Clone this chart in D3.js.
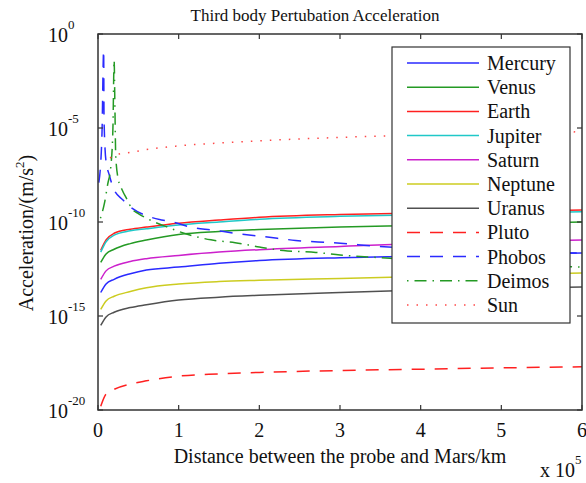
<!DOCTYPE html>
<html><head><meta charset="utf-8">
<script src="https://cdn.jsdelivr.net/npm/d3@7"></script>
<style>
body{margin:0;background:#fff}
svg{display:block}
text{font-family:"Liberation Serif","Times New Roman",serif;fill:#111}
</style></head>
<body><svg id="c" width="586" height="483"></svg>
<script>
// distance from Mars, units of 1e5 km
const distX = [0.034, 0.1, 0.2, 0.4, 0.6, 1, 1.5, 2, 3, 4, 5, 6];
// log10 of acceleration (m/s^2)
const mercury = [-13.75, -13.3, -13.05, -12.75, -12.55, -12.4, -12.2, -12.05, -11.9, -11.82, -11.72, -11.65];
const venus   = [-12.15, -11.7, -11.45, -11.15, -10.96, -10.66, -10.5, -10.4, -10.26, -10.18, -10.08, -10.0];
const earth   = [-11.5, -10.95, -10.6, -10.38, -10.27, -10.07, -9.9, -9.75, -9.6, -9.52, -9.44, -9.36];
const jupiter = [-11.6, -11.05, -10.7, -10.47, -10.36, -10.16, -10.0, -9.85, -9.7, -9.62, -9.54, -9.46];
const saturn  = [-13.05, -12.6, -12.35, -12.1, -11.95, -11.78, -11.6, -11.47, -11.3, -11.15, -11.05, -10.96];
const neptune = [-14.65, -14.2, -13.95, -13.7, -13.5, -13.3, -13.17, -13.1, -13.0, -12.9, -12.8, -12.71];
const uranus  = [-15.5, -15.05, -14.8, -14.55, -14.4, -14.15, -14.0, -13.9, -13.75, -13.62, -13.53, -13.46];
const pluto   = [-19.8, -19.15, -18.9, -18.62, -18.45, -18.2, -18.08, -18.0, -17.9, -17.83, -17.76, -17.7];

const phobosX = [0.01, 0.03, 0.05, 0.07, 0.075, 0.1, 0.14, 0.19, 0.31, 0.42, 0.58, 0.79, 0.93, 1.14, 1.43, 1.7, 2.1, 2.45, 2.9, 3.6, 4.5, 6];
const phobos  = [-7.9, -7.1, -5.2, -0.85, -4.6, -6.8, -7.5, -8.2, -8.83, -9.26, -9.63, -9.89, -10.0, -10.27, -10.43, -10.6, -10.8, -10.98, -11.1, -11.33, -11.5, -11.65];

const deimosX = [0.03, 0.08, 0.12, 0.16, 0.185, 0.2, 0.21, 0.22, 0.25, 0.3, 0.36, 0.42, 0.5, 0.7, 0.86, 1.0, 1.4, 1.7, 2.0, 2.3, 2.7, 3.0, 3.5, 4.5, 6];
const deimos  = [-9.8, -9.0, -8.0, -7.0, -5.0, -1.4, -4.0, -6.5, -7.7, -8.3, -8.8, -9.3, -9.55, -10.0, -10.27, -10.5, -10.95, -11.1, -11.33, -11.52, -11.62, -11.75, -11.9, -12.15, -12.4];

const sunX = [0.15, 0.2, 0.4, 0.6, 1, 1.5, 2, 3, 4, 5, 6];
const sun  = [-6.6, -6.45, -6.3, -6.15, -5.95, -5.8, -5.68, -5.5, -5.37, -5.27, -5.2];

const names = ["Mercury","Venus","Earth","Jupiter","Saturn","Neptune","Uranus","Pluto","Phobos","Deimos","Sun"];
const xTicks = [0,1,2,3,4,5,6];
const yTickExp = [0,-5,-10,-15,-20];

const seriesData = [
  {name:"Mercury", xs:distX, ys:mercury, color:"#2a2aff", dash:null},
  {name:"Venus", xs:distX, ys:venus, color:"#249a24", dash:null},
  {name:"Earth", xs:distX, ys:earth, color:"#ff2020", dash:null},
  {name:"Jupiter", xs:distX, ys:jupiter, color:"#20c8c8", dash:null},
  {name:"Saturn", xs:distX, ys:saturn, color:"#cc20cc", dash:null},
  {name:"Neptune", xs:distX, ys:neptune, color:"#cccc20", dash:null},
  {name:"Uranus", xs:distX, ys:uranus, color:"#505050", dash:null},
  {name:"Pluto", xs:distX, ys:pluto, color:"#ff2020", dash:"13,10"},
  {name:"Phobos", xs:phobosX, ys:phobos, color:"#2a2aff", dash:"13,10"},
  {name:"Deimos", xs:deimosX, ys:deimos, color:"#249a24", dash:"1.5,6,12,6"},
  {name:"Sun", xs:sunX, ys:sun, color:"#ff4848", dash:"1.5,8"}
];

const svg = d3.select("#c");
const L = 98, R = 582, T = 34, B = 410;
const x = d3.scaleLinear().domain([0,6]).range([L,R]);
const y = d3.scaleLog().domain([1e-20,1]).range([B,T]);

svg.append("defs").append("clipPath").attr("id","clip")
  .append("rect").attr("x",L).attr("y",T).attr("width",R-L).attr("height",B-T);

const line = d3.line().x(d=>x(d[0])).y(d=>y(Math.pow(10,d[1]))).curve(d3.curveMonotoneX);

const g = svg.append("g").attr("clip-path","url(#clip)");
seriesData.forEach(s=>{
  const pts = s.xs.map((v,i)=>[v,s.ys[i]]);
  g.append("path").attr("d",line(pts)).attr("fill","none")
    .attr("stroke",s.color).attr("stroke-width",1.5)
    .attr("stroke-dasharray",s.dash);
});

// axes (inward ticks on all sides)
const frame = "#333";
const ax = svg.append("g").attr("stroke",frame).attr("stroke-width",1.2);
xTicks.forEach(t=>{
  ax.append("line").attr("x1",x(t)).attr("x2",x(t)).attr("y1",B).attr("y2",B-5);
  ax.append("line").attr("x1",x(t)).attr("x2",x(t)).attr("y1",T).attr("y2",T+5);
});
yTickExp.forEach(e=>{
  ax.append("line").attr("x1",L).attr("x2",L+5).attr("y1",y(Math.pow(10,e))).attr("y2",y(Math.pow(10,e)));
  ax.append("line").attr("x1",R).attr("x2",R-5).attr("y1",y(Math.pow(10,e))).attr("y2",y(Math.pow(10,e)));
});
svg.append("rect").attr("x",L).attr("y",T).attr("width",R-L).attr("height",B-T)
  .attr("fill","none").attr("stroke",frame).attr("stroke-width",1.5);

// tick labels
xTicks.forEach(t=>{
  svg.append("text").attr("x",x(t)).attr("y",437).attr("text-anchor","middle")
    .attr("font-size",20).text(t);
});
yTickExp.forEach(e=>{
  const yy = y(Math.pow(10,e));
  const tx = svg.append("text").attr("x",48).attr("y",yy+8).attr("font-size",20);
  tx.append("tspan").text("10");
  tx.append("tspan").attr("font-size",13).attr("dy",-13).text(e);
});

// axis labels
svg.append("text").attr("x",340).attr("y",463).attr("text-anchor","middle")
  .attr("font-size",20).text("Distance between the probe and Mars/km");
const mult = svg.append("text").attr("x",540).attr("y",477).attr("font-size",20);
mult.append("tspan").text("x 10");
mult.append("tspan").attr("font-size",13).attr("dy",-13).text("5");

const yl = svg.append("text").attr("transform","translate(33,233) rotate(-90)")
  .attr("text-anchor","middle").attr("font-size",20);
yl.append("tspan").text("Acceleration/(m/s");
yl.append("tspan").attr("font-size",13).attr("dy",-9).text("2");
yl.append("tspan").attr("dy",9).text(")");

svg.append("text").attr("x",315).attr("y",21).attr("text-anchor","middle")
  .attr("font-size",17).text("Third body Pertubation Acceleration");

// legend
const lg = svg.append("g");
lg.append("rect").attr("x",392).attr("y",47).attr("width",178).attr("height",276)
  .attr("fill","#fff").attr("stroke","#333").attr("stroke-width",1.2);
seriesData.forEach((s,i)=>{
  const yy = 63 + i*24.2;
  lg.append("line").attr("x1",407).attr("x2",479).attr("y1",yy).attr("y2",yy)
    .attr("stroke",s.color).attr("stroke-width",1.5).attr("stroke-dasharray",s.dash);
  lg.append("text").attr("x",487).attr("y",yy+7).attr("font-size",20).text(names[i]);
});
</script></body></html>
